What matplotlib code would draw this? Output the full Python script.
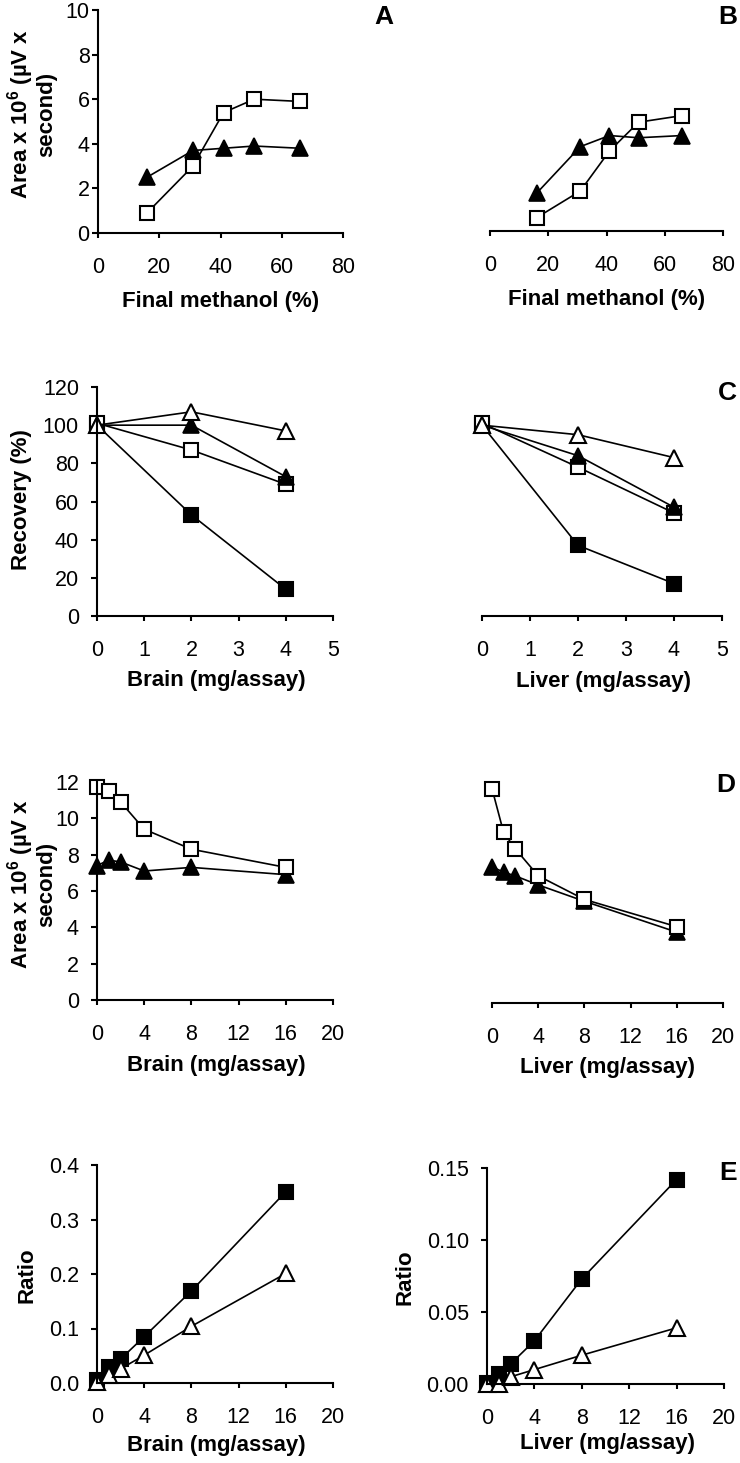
import matplotlib
matplotlib.use("Agg")
import matplotlib.pyplot as plt

plt.rcParams['font.family'] = ['Liberation Sans', 'DejaVu Sans']
plt.rcParams['mathtext.fontset'] = 'custom'
plt.rcParams['mathtext.rm'] = 'Liberation Sans:bold'
plt.rcParams['mathtext.bf'] = 'Liberation Sans:bold'

# ---------------- data ----------------
# Panel A / B : final methanol (%)
methanol = [16, 31, 41, 51, 66]
A_sq = [0.9, 3.0, 5.4, 6.0, 5.9]
A_tri = [2.5, 3.7, 3.8, 3.9, 3.8]
B_sq = [0.6, 1.8, 3.6, 4.9, 5.2]
B_tri = [1.7, 3.8, 4.3, 4.2, 4.3]

# Panel C : recovery (%) vs tissue (mg/assay)
tissue_C = [0, 2, 4]
C_brain_fsq = [100, 53, 14]
C_brain_osq = [101, 87, 69]
C_brain_ftri = [100, 100, 73]
C_brain_otri = [100, 107, 97]
C_liver_fsq = [100, 37, 17]
C_liver_osq = [101, 78, 54]
C_liver_ftri = [100, 84, 57]
C_liver_otri = [100, 95, 83]

# Panel D : area vs tissue (mg/assay)
tissue_DE = [0, 1, 2, 4, 8, 16]
D_brain_sq = [11.7, 11.5, 10.9, 9.4, 8.3, 7.3]
D_brain_tri = [7.4, 7.7, 7.6, 7.1, 7.3, 6.9]
D_liver_sq = [11.8, 9.4, 8.5, 7.0, 5.7, 4.2]
D_liver_tri = [7.5, 7.2, 7.0, 6.5, 5.6, 3.9]

# Panel E : ratio vs tissue (mg/assay)
E_brain_fsq = [0.005, 0.029, 0.044, 0.085, 0.169, 0.351]
E_brain_otri = [0.002, 0.014, 0.026, 0.051, 0.104, 0.201]
E_liver_fsq = [0.001, 0.007, 0.014, 0.030, 0.073, 0.142]
E_liver_otri = [0.0, 0.0, 0.005, 0.010, 0.020, 0.039]

W, H = 740, 1463
fig = plt.figure(figsize=(W / 100, H / 100), dpi=100)

def add_ax(left, right, top, bottom):
    return fig.add_axes([left / W, 1 - bottom / H, (right - left) / W, (bottom - top) / H])

TICK = 15.5
LAB = 16

def style(ax, show_y=True, ypad=9):
    for s in ['top', 'right']:
        ax.spines[s].set_visible(False)
    ax.spines['bottom'].set_linewidth(1.5)
    ax.spines['left'].set_linewidth(1.5)
    ax.tick_params(axis='x', direction='out', length=3.5, width=1.5,
                   labelsize=TICK, pad=14)
    ax.tick_params(axis='y', direction='out', length=4, width=1.5,
                   labelsize=TICK, pad=ypad)
    if not show_y:
        ax.spines['left'].set_visible(False)
        ax.tick_params(axis='y', left=False, labelleft=False)
    ax.set_facecolor('none')

MS = 10
LW = 1.2

def fsq(ax, x, y):
    ax.plot(x, y, '-', color='black', lw=LW, marker='s', ms=MS,
            mfc='black', mec='black', mew=1.5, clip_on=False)

def osq(ax, x, y):
    ax.plot(x, y, '-', color='black', lw=LW, marker='s', ms=MS,
            mfc='white', mec='black', mew=1.5, clip_on=False)

def ftri(ax, x, y):
    ax.plot(x, y, '-', color='black', lw=LW, marker='^', ms=MS + 1,
            mfc='black', mec='black', mew=1.2, clip_on=False)

def otri(ax, x, y):
    ax.plot(x, y, '-', color='black', lw=LW, marker='^', ms=MS + 1,
            mfc='white', mec='black', mew=1.5, clip_on=False)

def txt(x, y, s, **kw):
    fig.text(x / W, 1 - y / H, s, ha='center', va='center', **kw)

# ---------- Panel A ----------
axA = add_ax(98, 343, 10, 233)
osq(axA, methanol, A_sq)
ftri(axA, methanol, A_tri)
axA.set_xlim(0, 80); axA.set_ylim(0, 10)
axA.set_xticks([0, 20, 40, 60, 80]); axA.set_yticks([0, 2, 4, 6, 8, 10])
style(axA, ypad=2)

# ---------- Panel B ----------
axB = add_ax(490, 723, 9, 231)
osq(axB, methanol, B_sq)
ftri(axB, methanol, B_tri)
axB.set_xlim(0, 80); axB.set_ylim(0, 10)
axB.set_xticks([0, 20, 40, 60, 80])
style(axB, show_y=False)

# ---------- Panel C ----------
axC1 = add_ax(97, 333, 387, 616)
fsq(axC1, tissue_C, C_brain_fsq)
osq(axC1, tissue_C, C_brain_osq)
ftri(axC1, tissue_C, C_brain_ftri)
otri(axC1, tissue_C, C_brain_otri)
axC1.set_xlim(0, 5); axC1.set_ylim(0, 120)
axC1.set_xticks(range(0, 6)); axC1.set_yticks(range(0, 121, 20))
style(axC1)

axC2 = add_ax(482, 722, 387, 616)
fsq(axC2, tissue_C, C_liver_fsq)
osq(axC2, tissue_C, C_liver_osq)
ftri(axC2, tissue_C, C_liver_ftri)
otri(axC2, tissue_C, C_liver_otri)
axC2.set_xlim(0, 5); axC2.set_ylim(0, 120)
axC2.set_xticks(range(0, 6))
style(axC2, show_y=False)

# ---------- Panel D ----------
axD1 = add_ax(97, 333, 782, 1000)
ftri(axD1, tissue_DE, D_brain_tri)
osq(axD1, tissue_DE, D_brain_sq)
axD1.set_xlim(0, 20); axD1.set_ylim(0, 12)
axD1.set_xticks(range(0, 21, 4)); axD1.set_yticks(range(0, 13, 2))
style(axD1)

axD2 = add_ax(492, 723, 785, 1003)
ftri(axD2, tissue_DE, D_liver_tri)
osq(axD2, tissue_DE, D_liver_sq)
axD2.set_xlim(0, 20); axD2.set_ylim(0, 12)
axD2.set_xticks(range(0, 21, 4))
style(axD2, show_y=False)

# ---------- Panel E ----------
axE1 = add_ax(97, 333, 1165, 1383)
fsq(axE1, tissue_DE, E_brain_fsq)
otri(axE1, tissue_DE, E_brain_otri)
axE1.set_xlim(0, 20); axE1.set_ylim(0, 0.4)
axE1.set_xticks(range(0, 21, 4)); axE1.set_yticks([0, 0.1, 0.2, 0.3, 0.4])
axE1.yaxis.set_major_formatter(matplotlib.ticker.FormatStrFormatter('%.1f'))
style(axE1)

axE2 = add_ax(487, 724, 1168, 1384)
fsq(axE2, tissue_DE, E_liver_fsq)
otri(axE2, tissue_DE, E_liver_otri)
axE2.set_xlim(0, 20); axE2.set_ylim(0, 0.15)
axE2.set_xticks(range(0, 21, 4)); axE2.set_yticks([0, 0.05, 0.10, 0.15])
axE2.yaxis.set_major_formatter(matplotlib.ticker.FormatStrFormatter('%.2f'))
style(axE2)

# ---------- labels ----------
bold = dict(fontsize=LAB, fontweight='bold')
area_label = 'Area x 10$^{6}$ (µV x\nsecond)'
txt(221, 302, 'Final methanol (%)', **bold)
txt(607, 300, 'Final methanol (%)', **bold)
txt(216, 681, 'Brain (mg/assay)', **bold)
txt(603, 682, 'Liver (mg/assay)', **bold)
txt(216, 1066, 'Brain (mg/assay)', **bold)
txt(607, 1067, 'Liver (mg/assay)', **bold)
txt(216, 1445, 'Brain (mg/assay)', **bold)
txt(607, 1444, 'Liver (mg/assay)', **bold)

txt(31, 114, area_label, rotation=90, linespacing=1.0, **bold)
txt(31, 884, area_label, rotation=90, linespacing=1.0, **bold)
txt(22, 500, 'Recovery (%)', rotation=90, **bold)
txt(27, 1275, 'Ratio', rotation=90, **bold)
txt(405, 1277, 'Ratio', rotation=90, **bold)

big = dict(fontsize=19, fontweight='bold')
txt(384, 17, 'A', **big)
txt(728, 17, 'B', **big)
txt(727, 393, 'C', **big)
txt(726, 785, 'D', **big)
txt(728, 1173, 'E', **big)

fig.savefig('out.png', dpi=100, facecolor='white')
